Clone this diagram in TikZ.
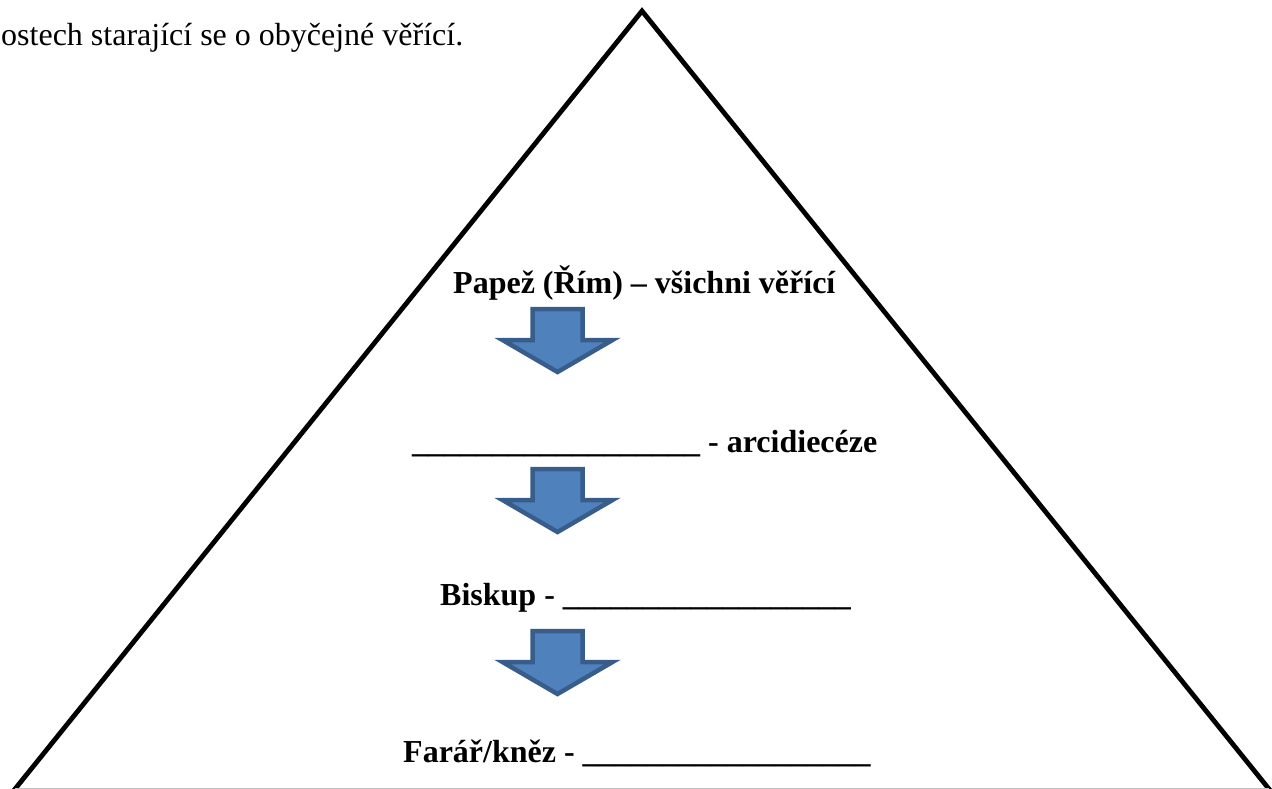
\documentclass[tikz,border=0pt]{standalone}
\usepackage{fontspec}
\setmainfont{Liberation Serif}
\newcommand\myblank[1]{\foreach \i in {1,...,#1}{\_}}
\tikzset{
  x=1pt, y=1pt,
  label text/.style={anchor=base west, inner sep=0pt, font=\fontsize{32}{38}\selectfont\bfseries},
  plain text/.style={anchor=base west, inner sep=0pt, font=\fontsize{32}{38}\selectfont},
  pyramid/.style={line width=4.8pt, black, line join=miter},
  blockarrow/.style={fill=arrowfill, draw=arrowedge, line width=4.5pt, line join=miter},
  downarrow/.pic={
    \draw[blockarrow] (-25,0) -- (25,0) -- (25,-31) -- (55,-31) -- (0,-63) -- (-55,-31) -- (-25,-31) -- cycle;
  }
}
\definecolor{arrowfill}{HTML}{4F81BD}
\definecolor{arrowedge}{HTML}{385D8A}
\begin{document}
\begin{tikzpicture}
\useasboundingbox (0,0) rectangle (1272,-789);
% pyramid
\coordinate (apex) at (642,-11);
\coordinate (bl) at (10.2,-795);
\coordinate (br) at (1273.8,-795);
\draw[pyramid] (bl) -- (apex) -- (br);
\coordinate (gl) at (15,-788.5);
\coordinate (gr) at (1269,-788.5);
\draw[black!25, line width=1pt] (gl) -- (gr);
% top text
\node[plain text] (intro) at (1,-46) {ostech starající se o obyčejné věřící.};
% levels
\node[label text] (l1) at (453,-293) {Papež (Řím) – všichni věřící};
\pic at (557.5,-309) {downarrow};
\node[label text] (l2) at (412,-452) {\myblank{18} - arcidiecéze};
\pic at (557.5,-469) {downarrow};
\node[label text] (l3) at (440,-605) {Biskup - \myblank{18}};
\pic at (557.5,-631) {downarrow};
\node[label text] (l4) at (403,-762) {Farář/kněz - \myblank{18}};
\end{tikzpicture}
\end{document}
